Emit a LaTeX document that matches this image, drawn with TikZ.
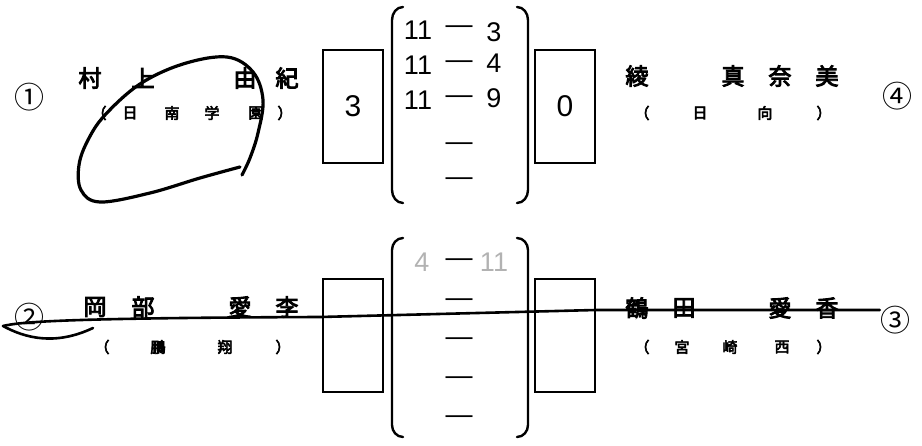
\documentclass[tikz,border=0pt]{standalone}
\usepackage{fontspec}
\newfontfamily\cjk{Noto Sans CJK JP}
\newfontfamily\cjkb{Noto Sans CJK JP}[FakeBold=4]
\newfontfamily\handfont{Liberation Sans}
\begin{document}
\begin{tikzpicture}[x=1pt,y=-1pt,
  namechar/.style={font=\cjkb\fontsize{23}{23}\selectfont, inner sep=0pt},
  schoolchar/.style={font=\cjkb\fontsize{15}{15}\selectfont, inner sep=0pt},
  seed/.style={font=\cjk\fontsize{30}{30}\selectfont, inner sep=0pt},
  scorebox/.style={draw, line width=2pt, minimum width=60pt, minimum height=113pt, inner sep=0pt, font=\handfont\fontsize{30}{30}\selectfont},
  hand/.style={font=\handfont\fontsize{27}{27}\selectfont, inner sep=0pt},
  faint/.style={hand, text=black!30},
  bracket/.style={line width=2.4pt, line cap=round},
  pen/.style={line width=3.2pt, line cap=round, line join=round},
  strike/.style={line width=2.6pt, line cap=round, line join=round}]
\useasboundingbox (0,0) rectangle (922,446);

% ---------- top match ----------
\node[seed] (n1) at (30,97) {①};
\node[namechar] (a1) at (90,78) {村};
\node[namechar] (a2) at (143,78) {上};
\node[namechar] (a3) at (245,78) {由};
\node[namechar] (a4) at (287,78) {紀};
\node[schoolchar] (as0) at (99,113) {（};
\node[schoolchar] (as1) at (130,113) {日};
\node[schoolchar] (as2) at (172,113) {南};
\node[schoolchar] (as3) at (212,113) {学};
\node[schoolchar] (as4) at (256,113) {園};
\node[schoolchar] (as5) at (285,113) {）};

\node[scorebox] (b1) at (353,106.5) {3};
\node[scorebox] (b2) at (565,106.5) {0};

\draw[bracket] (403,7) to[out=180,in=90] (392,20) -- (392,190) to[out=-90,in=180] (403,203);
\draw[bracket] (517,7) to[out=0,in=90] (528,20) -- (528,190) to[out=-90,in=0] (517,203);

\node[hand] (t1a) at (418,30) {11};
\node[hand] (t1d) at (459,30) {—};
\node[hand] (t1b) at (494,32) {3};
\node[hand] (t2a) at (418,65) {11};
\node[hand] (t2d) at (459,65) {—};
\node[hand] (t2b) at (494,63) {4};
\node[hand] (t3a) at (418,100) {11};
\node[hand] (t3d) at (459,100) {—};
\node[hand] (t3b) at (494,98) {9};
\node[hand] (t4d) at (459,147) {—};
\node[hand] (t5d) at (459,182) {—};

\node[namechar] (c1) at (637,76) {綾};
\node[namechar] (c2) at (733,76) {真};
\node[namechar] (c3) at (780,76) {奈};
\node[namechar] (c4) at (827,76) {美};
\node[schoolchar] (cs0) at (642,113) {（};
\node[schoolchar] (cs1) at (700,113) {日};
\node[schoolchar] (cs2) at (765,113) {向};
\node[schoolchar] (cs3) at (824,113) {）};
\node[seed] (n4) at (897,96) {④};

% hand-drawn loop round the top-left player
\draw[pen] plot[smooth, tension=0.6] coordinates {(240,167) (200,178) (150,193) (100,202) (81,190) (79,165) (88,140) (105,115) (140,84) (183,64) (227,57) (253,72) (263,100) (258,133) (250,158) (242,175)};

% ---------- bottom match ----------
\node[seed] (n2) at (30,317) {②};
\node[namechar] (d1) at (95,307) {岡};
\node[namechar] (d2) at (143,307) {部};
\node[namechar] (d3) at (240,307) {愛};
\node[namechar] (d4) at (287,307) {李};
\node[schoolchar] (ds0) at (102,347) {（};
\node[schoolchar] (ds1) at (158,347) {鵬};
\node[schoolchar] (ds2) at (225,347) {翔};
\node[schoolchar] (ds3) at (283,347) {）};

\node[scorebox] (b3) at (353,336) {};
\node[scorebox] (b4) at (565,336) {};

\draw[bracket] (403,238) to[out=180,in=90] (392,250) -- (392,425) to[out=-90,in=180] (403,437);
\draw[bracket] (517,238) to[out=0,in=90] (528,250) -- (528,425) to[out=-90,in=0] (517,437);

\node[faint] (u1a) at (422,262) {4};
\node[hand] (u1d) at (459,263) {—};
\node[faint] (u1b) at (494,262) {11};
\node[hand] (u2d) at (459,303) {—};
\node[hand] (u3d) at (459,342) {—};
\node[hand] (u4d) at (459,381) {—};
\node[hand] (u5d) at (459,420) {—};

\node[namechar] (e1) at (637,308) {鶴};
\node[namechar] (e2) at (684,308) {田};
\node[namechar] (e3) at (780,308) {愛};
\node[namechar] (e4) at (827,308) {香};
\node[schoolchar] (es0) at (642,347) {（};
\node[schoolchar] (es1) at (682,347) {宮};
\node[schoolchar] (es2) at (730,347) {崎};
\node[schoolchar] (es3) at (782,347) {西};
\node[schoolchar] (es4) at (824,347) {）};
\node[seed] (n3) at (895,320) {③};

% hand-drawn strike line through the bottom-left player
\coordinate (ls) at (3,326);
\coordinate (le) at (93,328);
\coordinate (lm) at (320,317);
\draw[strike] (ls) .. controls (20,322) and (60,318) .. (lm) -- (b4.east |- 0,310) -- (n3.west |- 0,310);
\draw[strike] (ls) .. controls (25,338) and (55,346) .. (le);
\end{tikzpicture}
\end{document}
